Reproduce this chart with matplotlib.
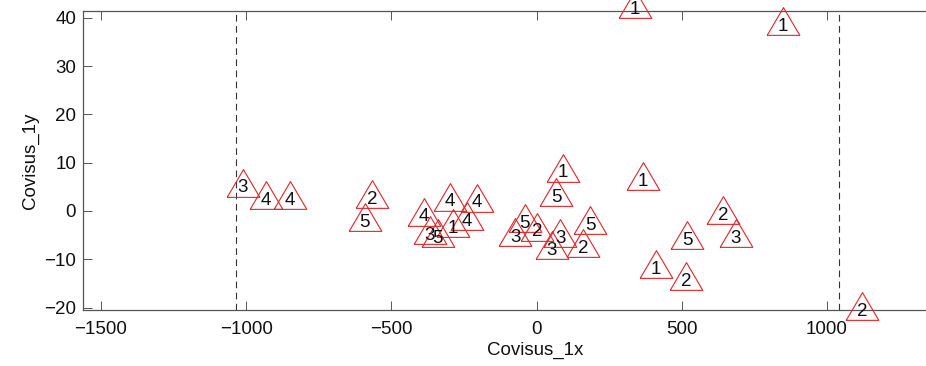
import matplotlib
matplotlib.use("Agg")
import matplotlib.pyplot as plt
import numpy as np

plt.rcParams['font.family'] = ['Liberation Sans', 'DejaVu Sans']

# ---- data ----
labels = ['3', '4', '4', '2', '5',
          '1', '5', '4', '4', '4', '4', '1', '3', '5',
          '5', '3', '2', '3', '3', '2', '5',
          '1', '2', '3', '5', '1', '2', '2', '1', '1']
x_vals = [-1011, -932, -849, -567, -591,
          91, 67, -298, -205, -388, -240, -288, -367, -340,
          -40, -74, 1, 81, 53, 160, 184,
          367, 642, 686, 518, 411, 514, 1120, 339, 848]
y_vals = [5.8, 3.3, 3.3, 3.5, -1.3,
          8.9, 3.9, 2.9, 2.7, -0.2, -1.1, -2.5, -4.0, -4.6,
          -1.5, -4.4, -3.3, -4.6, -7.1, -6.7, -1.9,
          7.2, 0.2, -4.6, -5.0, -11.0, -13.5, -19.7, 42.8, 39.3]
bounds = [-1036, 1043]
x_ticks = [-1500, -1000, -500, 0, 500, 1000]
y_ticks = [-20, -10, 0, 10, 20, 30, 40]

W, H, DPI = 926, 366, 100
fig = plt.figure(figsize=(W / DPI, H / DPI), dpi=DPI)
# axes extends past the right edge (cropped as in the reference)
ax = fig.add_axes([83 / W, (H - 310) / H, (1000 - 83) / W, (310 - 11) / H])
ax.set_xlim(-1562, 1596)
ax.set_ylim(-20.5, 41.4)

tri = [(-1, -0.85), (1, -0.85), (0, 0.85), (-1, -0.85)]
ax.plot(x_vals, y_vals, linestyle='none', marker=tri, markersize=23.5,
        markerfacecolor='none', markeredgecolor='#e0262a',
        markeredgewidth=0.8, clip_on=False, zorder=3)
for lab, xv, yv in zip(labels, x_vals, y_vals):
    ax.annotate(lab, (xv, yv), xytext=(0, -3.6), textcoords='offset points',
                ha='center', va='center', fontsize=13.5, color='#111111',
                annotation_clip=False, zorder=4)

for b in bounds:
    ax.axvline(b, color='#333333', linewidth=0.8, linestyle=(0, (6, 4)), zorder=2)

ax.set_xticks(x_ticks)
ax.set_yticks(y_ticks)
ax.tick_params(axis='both', direction='in', length=6.5, width=0.7, color='#555555',
               labelsize=13.5, top=True, right=False, labelcolor='#111111')
ax.tick_params(axis='x', pad=8)
ax.tick_params(axis='y', pad=5)
for s in ax.spines.values():
    s.set_color('#555555')
    s.set_linewidth(0.9)

ax.set_xlabel('Covisus_1x', fontsize=13.5, color='#111111')
ax.set_ylabel('Covisus_1y', fontsize=13.5, color='#111111', labelpad=4)
# place x label like the reference (centered near x=0, below tick labels)
ax.xaxis.set_label_coords((535 - 83) / (1000 - 83), -0.105)

fig.savefig('out.png', dpi=DPI)
